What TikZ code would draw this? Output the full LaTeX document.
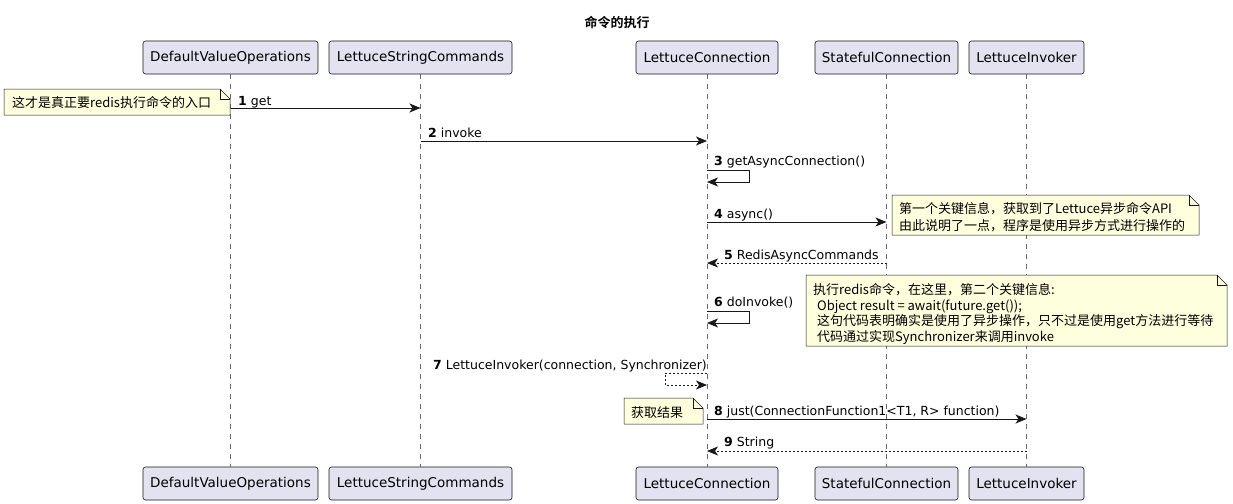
\documentclass[tikz,border=0pt]{standalone}
\usepackage{fontspec}
\setmainfont{DejaVu Sans}
\newfontfamily\cjkfont{Noto Sans CJK SC}[BoldFont={Noto Sans CJK SC Bold}]
\usetikzlibrary{arrows.meta}
\definecolor{partfill}{HTML}{E2E2F0}
\definecolor{linec}{HTML}{181818}
\definecolor{notefill}{HTML}{FEFFDD}
\newcommand\mynote[4]{%
  \filldraw[fill=notefill, draw=linec, line width=0.5pt] (#1,#2) -- ({#3-10},#2) -- (#3,{#2+10}) -- (#3,#4) -- (#1,#4) -- cycle;
  \draw[linec, line width=0.5pt] ({#3-10},#2) -- ({#3-10},{#2+10}) -- (#3,{#2+10});}
\begin{document}
\begin{tikzpicture}[x=1pt,y=-1pt,
  participant/.style={draw=linec, fill=partfill, rounded corners=2.5pt, line width=0.6pt, minimum height=33pt, inner sep=0pt, font=\fontsize{13.5}{16}\selectfont},
  lifeline/.style={draw=linec!65, line width=0.5pt, dash pattern=on 5pt off 5pt},
  msg/.style={draw=linec, line width=0.8pt, -{Stealth[length=11pt,width=9pt,inset=3pt]}},
  reply/.style={msg, dash pattern=on 2pt off 2pt},
  lbl/.style={anchor=base west, inner sep=0pt, font=\fontsize{12.5}{15}\selectfont},
  notetext/.style={anchor=base west, inner sep=0pt, font=\cjkfont\fontsize{13}{16}\selectfont},
]
\useasboundingbox (0,0) rectangle (1233,503);
\fill[white] (0,0) rectangle (1233,503);

% title
\node[font=\cjkfont\bfseries\fontsize{13}{16}\selectfont] (title) at (617,22) {命令的执行};

% participants
\node[participant, minimum width=175pt] (dvoT) at (230.5,57.5) {DefaultValueOperations};
\node[participant, minimum width=183pt] (lscT) at (420.5,57.5) {LettuceStringCommands};
\node[participant, minimum width=142pt] (lcT) at (707,57.5) {LettuceConnection};
\node[participant, minimum width=143pt] (scT) at (886.5,57.5) {StatefulConnection};
\node[participant, minimum width=115pt] (liT) at (1026.5,57.5) {LettuceInvoker};
\node[participant, minimum width=175pt] (dvoB) at (230.5,483.5) {DefaultValueOperations};
\node[participant, minimum width=183pt] (lscB) at (420.5,483.5) {LettuceStringCommands};
\node[participant, minimum width=142pt] (lcB) at (707,483.5) {LettuceConnection};
\node[participant, minimum width=143pt] (scB) at (886.5,483.5) {StatefulConnection};
\node[participant, minimum width=115pt] (liB) at (1026.5,483.5) {LettuceInvoker};

% lifelines
\draw[lifeline] (dvoT) -- (dvoB);
\draw[lifeline] (lscT) -- (lscB);
\draw[lifeline] (lcT) -- (lcB);
\draw[lifeline] (scT) -- (scB);
\draw[lifeline] (liT) -- (liB);

% message endpoints
\coordinate (m1a) at (dvoT |- 0,108); \coordinate (m1b) at (lscT |- 0,108);
\coordinate (m2a) at (lscT |- 0,141); \coordinate (m2b) at (lcT |- 0,141);
\coordinate (m3a) at (lcT |- 0,170);  \coordinate (m3b) at (lcT |- 0,182);
\coordinate (m4a) at (lcT |- 0,222);  \coordinate (m4b) at (scT |- 0,222);
\coordinate (m5a) at (scT |- 0,263);  \coordinate (m5b) at (lcT |- 0,263);
\coordinate (m6a) at (lcT |- 0,311);  \coordinate (m6b) at (lcT |- 0,323);
\coordinate (m7a) at (lcT |- 0,373);  \coordinate (m7b) at (lcT |- 0,385);
\coordinate (m8a) at (lcT |- 0,419);  \coordinate (m8b) at (liT |- 0,419);
\coordinate (m9a) at (liT |- 0,451);  \coordinate (m9b) at (lcT |- 0,451);

% messages
\draw[msg] (m1a) -- (m1b);
\node[lbl] (l1) at (238,105) {\textbf{1} get};
\draw[msg] (m2a) -- (m2b);
\node[lbl] (l2) at (428,137) {\textbf{2} invoke};
\draw[msg] (m3a) -- ++(42,0) -- ++(0,12) -- (m3b);
\node[lbl] (l3) at (714,165) {\textbf{3} getAsyncConnection()};
\draw[msg] (m4a) -- (m4b);
\node[lbl] (l4) at (714,218) {\textbf{4} async()};
\draw[reply] (m5a) -- (m5b);
\node[lbl] (l5) at (724,259) {\textbf{5} RedisAsyncCommands};
\draw[msg] (m6a) -- ++(42,0) -- ++(0,12) -- (m6b);
\node[lbl] (l6) at (714,306) {\textbf{6} doInvoke()};
\draw[reply] (m7a) -- ++(-42,0) -- ++(0,12) -- (m7b);
\node[lbl, anchor=base east] (l7) at (707,369) {\textbf{7} LettuceInvoker(connection, Synchronizer)};
\draw[msg] (m8a) -- (m8b);
\node[lbl] (l8) at (714,415) {\textbf{8} just(ConnectionFunction1<T1, R> function)};
\draw[reply] (m9a) -- (m9b);
\node[lbl] (l9) at (724,446) {\textbf{9} String};

% notes
\mynote{4}{89}{230}{115}
\node[notetext] (n1) at (12,107) {这才是真正要redis执行命令的入口};
\mynote{892}{195}{1199}{235}
\node[notetext] (n2a) at (899,213) {第一个关键信息，获取到了Lettuce异步命令API};
\node[notetext] (n2b) at (899,230) {由此说明了一点，程序是使用异步方式进行操作的};
\mynote{806}{275}{1227}{346}
\node[notetext] (n3a) at (813,294) {执行redis命令，在这里，第二个关键信息:};
\node[notetext] (n3b) at (817,310) {Object result = await(future.get());};
\node[notetext] (n3c) at (817,325) {这句代码表明确实是使用了异步操作，只不过是使用get方法进行等待};
\node[notetext] (n3d) at (817,341) {代码通过实现Synchronizer来调用invoke};
\mynote{624}{398}{703}{424}
\node[notetext] (n4) at (631,417) {获取结果};
\end{tikzpicture}
\end{document}
